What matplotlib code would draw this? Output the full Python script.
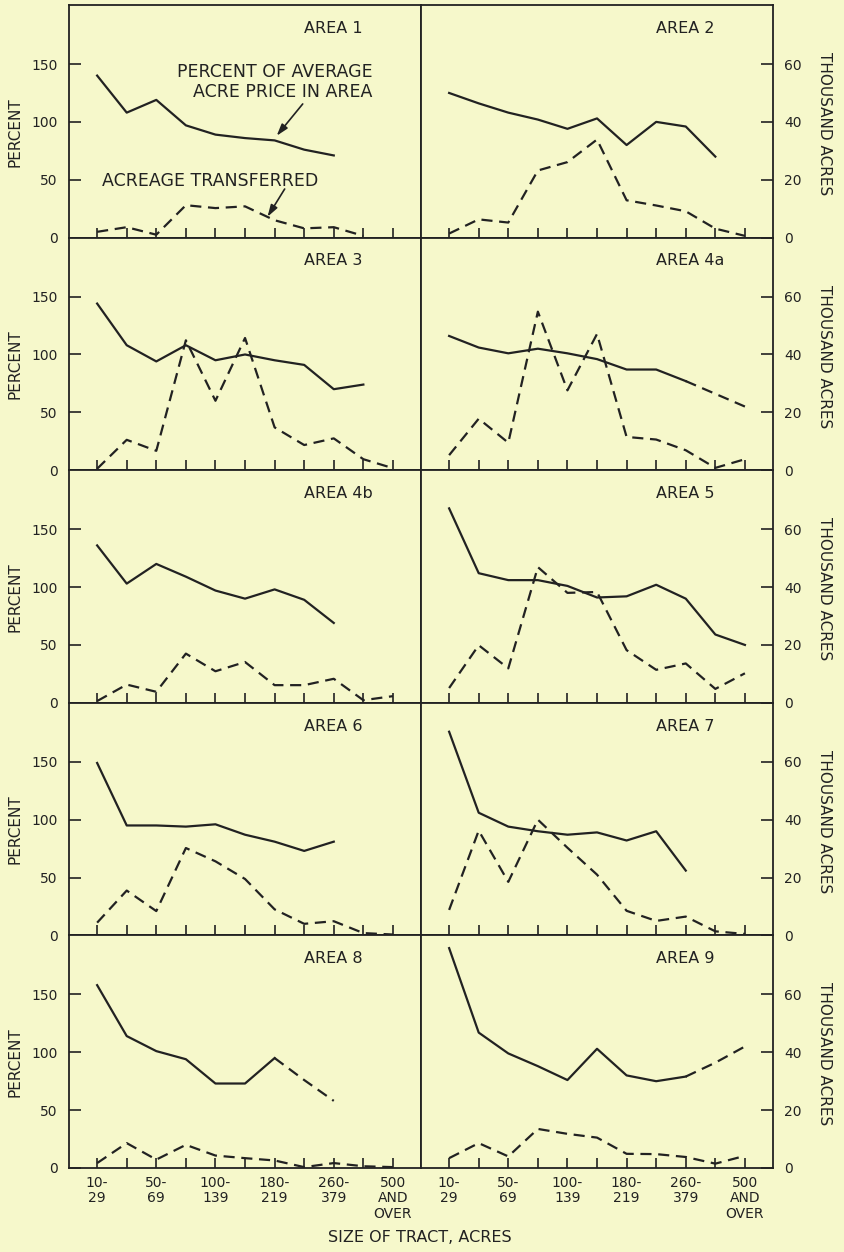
import numpy as np
import matplotlib.pyplot as plt

plt.rcParams['font.family'] = ['DejaVu Sans']

# tract size classes (acres)
size_classes = ['10-29', '30-49', '50-69', '70-99', '100-139', '140-179',
                '180-219', '220-259', '260-379', '380-499', '500 and over']
tick_text = ['10-\n29', '', '50-\n69', '', '100-\n139', '', '180-\n219', '',
             '260-\n379', '', '500\nAND\nOVER']

areas = ['1', '2', '3', '4a', '4b', '5', '6', '7', '8', '9']
nan = np.nan

# percent of average acre price in area
price_1 = [140, 108, 119, 97, 89, 86, 84, 76, 71, nan, nan]
price_2 = [125, 116, 108, 102, 94, 103, 80, 100, 96, 70, nan]
price_3 = [144, 108, 94, 108, 95, 100, 95, 91, 70, 74, nan]
price_4a = [116, 106, 101, 105, 101, 96, 87, 87, 77, 66, 55]
price_4b = [136, 103, 120, 109, 97, 90, 98, 89, 69, nan, nan]
price_5 = [168, 112, 106, 106, 101, 91, 92, 102, 90, 59, 50]
price_6 = [149, 95, 95, 94, 96, 87, 81, 73, 81, nan, nan]
price_7 = [176, 106, 94, 90, 87, 89, 82, 90, 56, nan, nan]
price_8 = [158, 114, 101, 94, 73, 73, 95, 76, 58, nan, nan]
price_9 = [190, 117, 99, 88, 76, 103, 80, 75, 79, 91, 105]

# acreage transferred, thousand acres
acres_1 = [2.0, 3.6, 1.0, 11.2, 10.2, 10.8, 6.0, 3.2, 3.6, 0.6, nan]
acres_2 = [1.4, 6.3, 5.2, 23.2, 26.1, 33.9, 12.9, 11.1, 9.1, 3.1, 0.6]
acres_3 = [0.5, 10.5, 6.7, 44.9, 24.0, 45.7, 14.8, 8.7, 11.0, 3.8, 0.7]
acres_4a = [5.2, 17.8, 9.5, 54.8, 27.6, 47.1, 11.5, 10.6, 6.9, 0.8, 3.8]
acres_4b = [0.6, 6.3, 3.8, 17.0, 10.9, 14.1, 6.1, 6.1, 8.3, 0.9, 2.3]
acres_5 = [5.1, 19.9, 11.9, 46.9, 38.0, 38.3, 18.2, 11.4, 13.6, 4.8, 10.2]
acres_6 = [4.4, 15.5, 8.4, 30.2, 25.6, 19.5, 9.0, 4.0, 4.9, 0.8, 0.3]
acres_7 = [8.8, 36.2, 18.5, 40.0, 30.3, 21.0, 8.5, 5.0, 6.5, 1.4, 0.5]
acres_8 = [1.7, 8.6, 2.9, 8.0, 4.3, 3.4, 2.6, 0.3, 1.7, 0.6, 0.3]
acres_9 = [3.4, 8.6, 4.0, 13.5, 11.8, 10.5, 4.9, 4.8, 3.8, 1.5, 4.2]

price = {'1': price_1, '2': price_2, '3': price_3, '4a': price_4a, '4b': price_4b,
         '5': price_5, '6': price_6, '7': price_7, '8': price_8, '9': price_9}
acres = {'1': acres_1, '2': acres_2, '3': acres_3, '4a': acres_4a, '4b': acres_4b,
         '5': acres_5, '6': acres_6, '7': acres_7, '8': acres_8, '9': acres_9}
# price line turns dashed (estimated) from this index on
price_dashed_from = {'4a': 8, '8': 6, '9': 8}

bg = '#f6f8cb'
ink = '#222222'
lw = 1.6
dash = (5, 3)

fig, axes = plt.subplots(5, 2, figsize=(8.44, 12.52), dpi=100,
                         gridspec_kw={'hspace': 0, 'wspace': 0})
fig.subplots_adjust(left=0.0818, right=0.9159, top=0.996, bottom=0.0671)
fig.patch.set_facecolor(bg)

x = np.arange(len(size_classes))
for k, (ax, area) in enumerate(zip(axes.flat, areas)):
    row, col = divmod(k, 2)
    ax.set_facecolor(bg)
    ax2 = ax.twinx()
    ax.set_xlim(-0.95, 10.95)
    ax.set_ylim(0, 201)
    ax2.set_ylim(0, 201 * 0.4)

    p = np.array(price[area], float)
    cut = price_dashed_from.get(area)
    if cut is None:
        ax.plot(x, p, color=ink, lw=lw)
    else:
        ax.plot(x[:cut + 1], p[:cut + 1], color=ink, lw=lw)
        ax.plot(x[cut:], p[cut:], color=ink, lw=lw, dashes=dash)
    ax2.plot(x, acres[area], color=ink, lw=lw, dashes=dash)

    for s in ax.spines.values():
        s.set_linewidth(1.3)
        s.set_color(ink)
    for s in ax2.spines.values():
        s.set_visible(False)

    ax.set_xticks(x)
    ax.tick_params(axis='x', direction='in', length=7, width=1.2, color=ink,
                   labelsize=10, labelcolor=ink, pad=6)
    if row == 4:
        ax.set_xticklabels(tick_text, linespacing=1.1)
    else:
        ax.tick_params(axis='x', labelbottom=False)

    ax.set_yticks([0, 50, 100, 150])
    ax2.set_yticks([0, 20, 40, 60])
    if col == 0:
        ax.tick_params(axis='y', direction='in', length=8.5, width=1.2, color=ink,
                       labelsize=10, labelcolor=ink, pad=8)
        ax2.tick_params(axis='y', right=False, labelright=False)
        ax.set_ylabel('PERCENT', fontsize=11, color=ink, va='center')
        ax.yaxis.set_label_coords(-0.154, 0.455)
    else:
        ax.tick_params(axis='y', left=False, labelleft=False)
        ax2.tick_params(axis='y', direction='in', length=8.5, width=1.2, color=ink,
                        labelsize=10, labelcolor=ink, pad=8)
        ax2.set_ylabel('THOUSAND ACRES', fontsize=11, color=ink, rotation=270,
                       va='center')
        ax2.yaxis.set_label_coords(1.147, 0.49)

    ax.text(0.668, 0.90, 'AREA ' + area, transform=ax.transAxes, ha='left',
            va='center', fontsize=11.5, color=ink)

# call-outs in area 1
a1 = axes[0, 0]
arrow = dict(arrowstyle='-|>,head_length=0.7,head_width=0.22', color=ink,
             lw=1.2, shrinkA=0, shrinkB=0)
a1.text(9.32, 134.5, 'PERCENT OF AVERAGE\nACRE PRICE IN AREA', ha='right',
        va='center', multialignment='right', fontsize=12.5, color=ink,
        linespacing=1.1)
a1.annotate('', xy=(6.07, 88), xytext=(6.95, 115.5), arrowprops=arrow)
a1.text(3.81, 49, 'ACREAGE TRANSFERRED', ha='center', va='center',
        fontsize=12.5, color=ink)
a1.annotate('', xy=(5.76, 18), xytext=(6.34, 42), arrowprops=arrow)

fig.text(420 / 844, 1 - 1237 / 1252, 'SIZE OF TRACT, ACRES', ha='center',
         va='center', fontsize=11.5, color=ink)

fig.savefig('out.png', dpi=100, facecolor=bg)
